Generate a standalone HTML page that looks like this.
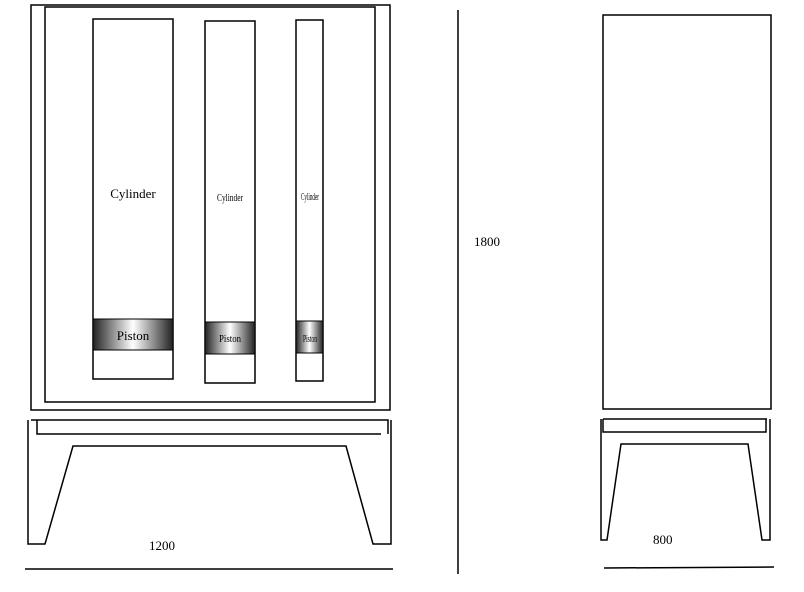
<!DOCTYPE html>
<html><head><style>body{margin:0;background:#fff}svg{display:block}</style></head>
<body>
<svg width="804" height="592" xmlns="http://www.w3.org/2000/svg" font-family="Liberation Serif, serif">
<defs>
<linearGradient id="g" x1="0" x2="1" y1="0" y2="0">
<stop offset="0" stop-color="#222"/><stop offset="0.5" stop-color="#fff"/><stop offset="1" stop-color="#222"/>
</linearGradient>
</defs>
<g fill="none" stroke="#000" stroke-width="1.5">
<rect x="31" y="5" width="359" height="405"/>
<rect x="45" y="7" width="330" height="395"/>
<rect x="93" y="19" width="80" height="360"/>
<rect x="205" y="21" width="50" height="362"/>
<rect x="296" y="20" width="27" height="361"/>
</g>
<rect x="93" y="319" width="80" height="31" fill="url(#g)" stroke="#000"/>
<rect x="205" y="322" width="50" height="32" fill="url(#g)" stroke="#000"/>
<rect x="296" y="321" width="27" height="32" fill="url(#g)" stroke="#000"/>
<text x="133" y="198" font-size="13" text-anchor="middle">Cylinder</text>
<text x="230" y="201" font-size="11" text-anchor="middle" textLength="26" lengthAdjust="spacingAndGlyphs">Cylinder</text>
<text x="310" y="200" font-size="11" text-anchor="middle" textLength="18" lengthAdjust="spacingAndGlyphs">Cylinder</text>
<text x="133" y="340" font-size="13" text-anchor="middle">Piston</text>
<text x="230" y="342" font-size="11" text-anchor="middle" textLength="22" lengthAdjust="spacingAndGlyphs">Piston</text>
<text x="310" y="342" font-size="11" text-anchor="middle" textLength="14" lengthAdjust="spacingAndGlyphs">Piston</text>
<g fill="none" stroke="#000" stroke-width="1.5">
<path d="M31 420 H388 V434 M37 420 V434 H381"/>
<path d="M28 420 V544 H45 L73 446 H346 L373 544 H391 V420"/>
<line x1="458" y1="10" x2="458" y2="574"/>
<rect x="603" y="15" width="168" height="394"/>
<path d="M603 419 H767 M603 419 V432 H766 V419"/>
<path d="M601 419 V540 H607 L621 444 H748 L762 540 H770 V419"/>
<line x1="25" y1="569" x2="393" y2="569"/>
<line x1="604" y1="568" x2="774" y2="567"/>
</g>
<g font-size="13" fill="#000">
<text x="149" y="550">1200</text>
<text x="474" y="246">1800</text>
<text x="653" y="544">800</text>
</g>
</svg>
</body></html>
